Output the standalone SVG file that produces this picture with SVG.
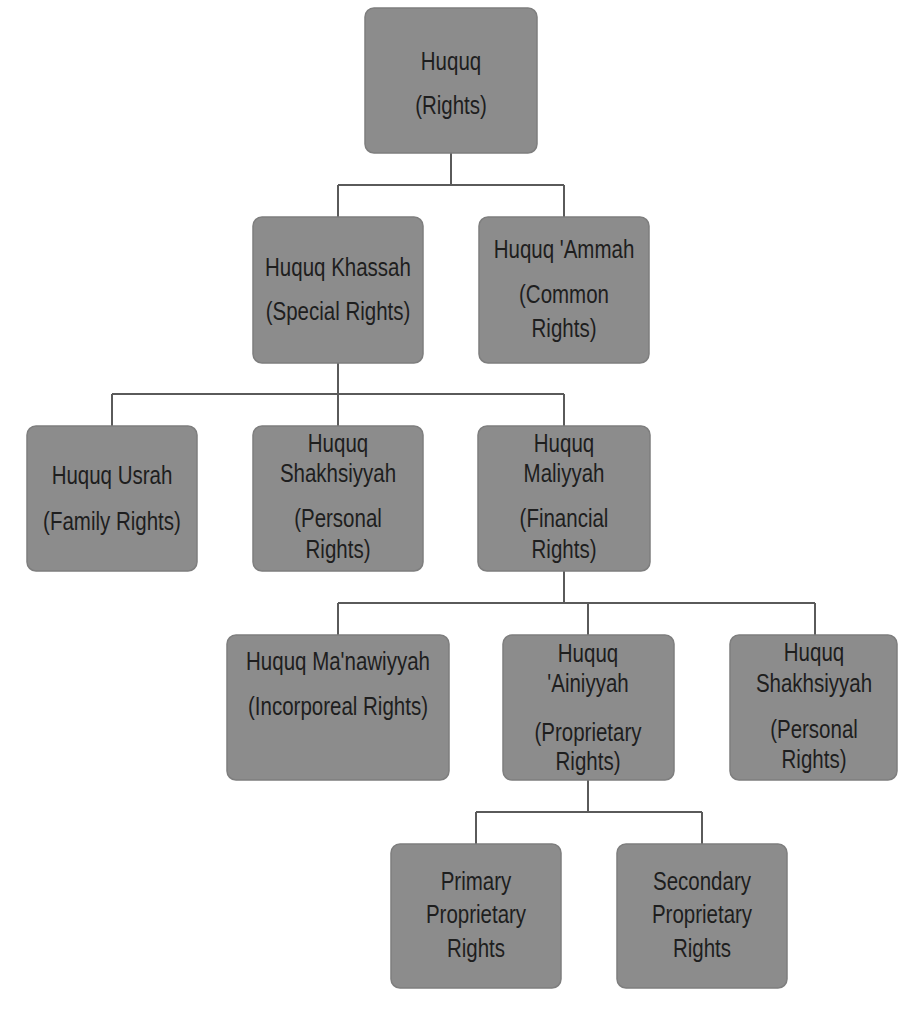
<svg xmlns="http://www.w3.org/2000/svg" width="899" height="1013" viewBox="0 0 899 1013">
<style>
.box{fill:#8c8c8c;stroke:#7e7e7e;stroke-width:1.5}
.t{font-family:"Liberation Sans",Arial,sans-serif;font-size:20.5px;fill:#1e1e1e;text-anchor:middle}
.c{fill:none;stroke:#5a5a5a;stroke-width:2}
</style>
<rect width="899" height="1013" fill="#ffffff"/>
<g id="connectors">
<path class="c" d="M451 153V185M338 185H564M338 185V217M564 185V217"/>
<path class="c" d="M338 363V394M112 394H564M112 394V426M338 394V426M564 394V426"/>
<path class="c" d="M564 571V603M338 603H815M338 603V635M588 603V635M815 603V635"/>
<path class="c" d="M588 780V812M476 812H702M476 812V844M702 812V844"/>
</g>
<g id="n-huquq"><rect class="box" x="365" y="8" width="172" height="145" rx="9"/>
<text class="t" transform="translate(451 70) scale(1 1.22)">Huquq</text><text class="t" transform="translate(451 114) scale(1 1.22)">(Rights)</text></g>
<g id="n-khassah"><rect class="box" x="253" y="217" width="170" height="146" rx="9"/>
<text class="t" transform="translate(338 276) scale(1 1.22)">Huquq Khassah</text><text class="t" transform="translate(338 320) scale(1 1.22)">(Special Rights)</text></g>
<g id="n-ammah"><rect class="box" x="479" y="217" width="170" height="146" rx="9"/>
<text class="t" transform="translate(564 258) scale(1 1.22)">Huquq 'Ammah</text><text class="t" transform="translate(564 303) scale(1 1.22)">(Common</text><text class="t" transform="translate(564 337) scale(1 1.22)">Rights)</text></g>
<g id="n-usrah"><rect class="box" x="27" y="426" width="170" height="145" rx="9"/>
<text class="t" transform="translate(112 484) scale(1 1.22)">Huquq Usrah</text><text class="t" transform="translate(112 530) scale(1 1.22)">(Family Rights)</text></g>
<g id="n-shakhsiyyah1"><rect class="box" x="253" y="426" width="170" height="145" rx="9"/>
<text class="t" transform="translate(338 452) scale(1 1.22)">Huquq</text><text class="t" transform="translate(338 482) scale(1 1.22)">Shakhsiyyah</text><text class="t" transform="translate(338 527) scale(1 1.22)">(Personal</text><text class="t" transform="translate(338 558) scale(1 1.22)">Rights)</text></g>
<g id="n-maliyyah"><rect class="box" x="478" y="426" width="172" height="145" rx="9"/>
<text class="t" transform="translate(564 452) scale(1 1.22)">Huquq</text><text class="t" transform="translate(564 482) scale(1 1.22)">Maliyyah</text><text class="t" transform="translate(564 527) scale(1 1.22)">(Financial</text><text class="t" transform="translate(564 558) scale(1 1.22)">Rights)</text></g>
<g id="n-manawiyyah"><rect class="box" x="227" y="635" width="222" height="145" rx="9"/>
<text class="t" transform="translate(338 670) scale(1 1.22)">Huquq Ma'nawiyyah</text><text class="t" transform="translate(338 715) scale(1 1.22)">(Incorporeal Rights)</text></g>
<g id="n-ainiyyah"><rect class="box" x="503" y="635" width="171" height="145" rx="9"/>
<text class="t" transform="translate(588 662) scale(1 1.22)">Huquq</text><text class="t" transform="translate(588 692) scale(1 1.22)">'Ainiyyah</text><text class="t" transform="translate(588 741) scale(1 1.22)">(Proprietary</text><text class="t" transform="translate(588 770) scale(1 1.22)">Rights)</text></g>
<g id="n-shakhsiyyah2"><rect class="box" x="730" y="635" width="167" height="145" rx="9"/>
<text class="t" transform="translate(814 661) scale(1 1.22)">Huquq</text><text class="t" transform="translate(814 692) scale(1 1.22)">Shakhsiyyah</text><text class="t" transform="translate(814 738) scale(1 1.22)">(Personal</text><text class="t" transform="translate(814 768) scale(1 1.22)">Rights)</text></g>
<g id="n-primary"><rect class="box" x="391" y="844" width="170" height="144" rx="9"/>
<text class="t" transform="translate(476 890) scale(1 1.22)">Primary</text><text class="t" transform="translate(476 923) scale(1 1.22)">Proprietary</text><text class="t" transform="translate(476 957) scale(1 1.22)">Rights</text></g>
<g id="n-secondary"><rect class="box" x="617" y="844" width="170" height="144" rx="9"/>
<text class="t" transform="translate(702 890) scale(1 1.22)">Secondary</text><text class="t" transform="translate(702 923) scale(1 1.22)">Proprietary</text><text class="t" transform="translate(702 957) scale(1 1.22)">Rights</text></g>
</svg>
